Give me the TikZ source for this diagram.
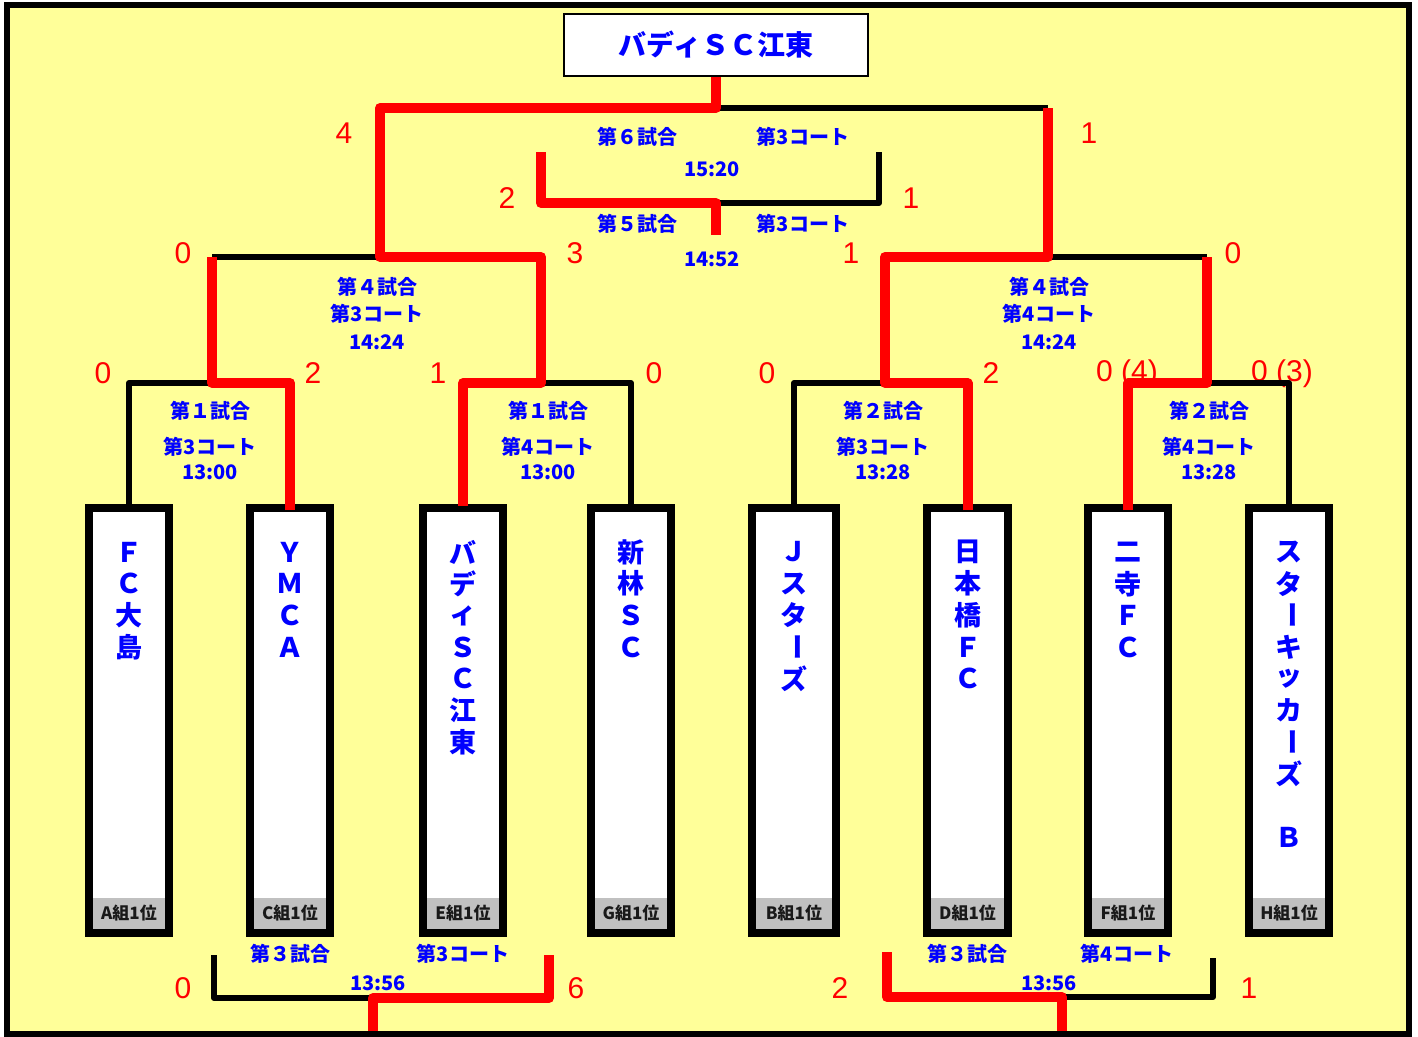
\documentclass[tikz,border=0pt]{standalone}
\usepackage{fontspec}
\usepackage{graphicx}
\newfontfamily\jp{Noto Sans CJK JP}
\newfontfamily\arialf{Liberation Sans}
\definecolor{bgyellow}{RGB}{255,255,153}
\definecolor{lblue}{RGB}{0,0,255}
\definecolor{lred}{RGB}{255,0,0}
\definecolor{lgray}{RGB}{192,192,192}
\newcommand\tatebar{\rotatebox{-90}{ー}}
\tikzset{
  redline/.style={draw=lred, line width=10pt, line join=round},
  blkline/.style={draw=black, line width=6pt, line join=round},
  info/.style={text=lblue, font=\jp\bfseries\fontsize{20}{20}\selectfont, inner sep=0pt},
  score/.style={text=lred, font=\arialf\fontsize{30}{30}\selectfont, inner sep=0pt},
  team/.style={draw=black, line width=8pt, fill=white, minimum height=425pt, inner sep=0pt},
  namech/.style={text=lblue, font=\jp\bfseries\fontsize{27}{27}\selectfont, inner sep=0pt},
  grp/.style={text=black!90, font=\jp\bfseries\fontsize{17}{17}\selectfont, inner sep=0pt},
  titlebox/.style={draw=black, line width=2pt, fill=white, minimum width=304pt, minimum height=62pt,
    text=lblue, font=\jp\bfseries\fontsize{28}{28}\selectfont, inner sep=0pt}
}
\newcommand\teamname[3]{%
  \foreach \ch [count=\i] in {#3} {
    \node[namech] (#1-\i) at (#2, {552+(\i-1)*31.7}) {\ch};
  }%
}
\begin{document}
\begin{tikzpicture}[x=1pt,y=-1pt]
\useasboundingbox (0,0) rectangle (1418,1036);
\fill[white] (0,0) rectangle (1418,1036);
\fill[bgyellow] (6.5,5) rectangle (1409,1033.5);

% team boxes
\foreach \x/\nm/\g/\w in {129/t1/A組1位/80, 290/t2/C組1位/80, 463/t3/E組1位/80, 631/t4/G組1位/80,
  794/t5/B組1位/84, 967.5/t6/D組1位/81, 1128/t7/F組1位/80, 1289/t8/H組1位/80} {
  \node[team, minimum width=\w pt] (\nm) at (\x,720.5) {};
  \fill[lgray] ({\x-\w/2+4},898) rectangle ({\x+\w/2-4},929);
  \node[grp] (\nm-g) at (\x,913.5) {\g};
}

% team names
\teamname{n1}{129}{Ｆ,Ｃ,大,島}
\teamname{n2}{290}{Ｙ,Ｍ,Ｃ,Ａ}
\teamname{n3}{463}{バ,デ,ィ,Ｓ,Ｃ,江,東}
\teamname{n4}{631}{新,林,Ｓ,Ｃ}
\teamname{n5}{794}{Ｊ,ス,タ,\tatebar,ズ}
\teamname{n6}{967.5}{日,本,橋,Ｆ,Ｃ}
\teamname{n7}{1128}{二,寺,Ｆ,Ｃ}
\teamname{n8}{1289}{ス,タ,\tatebar,キ,ッ,カ,\tatebar,ズ,{},Ｂ}

% info labels
\node[info] (l6a) at (637,137) {第６試合};
\node[info] (l6b) at (803,137) {第3コート};
\node[info] (l6c) at (712,169) {15:20};
\node[info] (l5a) at (637,224) {第５試合};
\node[info] (l5b) at (803,224) {第3コート};
\node[info] (l5c) at (712,259) {14:52};
\node[info] (l4a) at (377,287) {第４試合};
\node[info] (l4b) at (377,314) {第3コート};
\node[info] (l4c) at (377,342) {14:24};
\node[info] (r4a) at (1049,287) {第４試合};
\node[info] (r4b) at (1049,314) {第4コート};
\node[info] (r4c) at (1049,342) {14:24};
\node[info] (a1a) at (210,411) {第１試合};
\node[info] (a1b) at (210,447) {第3コート};
\node[info] (a1c) at (210,472) {13:00};
\node[info] (b1a) at (548,411) {第１試合};
\node[info] (b1b) at (548,447) {第4コート};
\node[info] (b1c) at (548,472) {13:00};
\node[info] (c2a) at (883,411) {第２試合};
\node[info] (c2b) at (883,447) {第3コート};
\node[info] (c2c) at (883,472) {13:28};
\node[info] (d2a) at (1209,411) {第２試合};
\node[info] (d2b) at (1209,447) {第4コート};
\node[info] (d2c) at (1209,472) {13:28};
\node[info] (e3a) at (290,954) {第３試合};
\node[info] (e3b) at (463,954) {第3コート};
\node[info] (e3c) at (378,983) {13:56};
\node[info] (f3a) at (967,954) {第３試合};
\node[info] (f3b) at (1127,954) {第4コート};
\node[info] (f3c) at (1049,983) {13:56};

% scores
\node[score] (s01) at (344,133) {4};
\node[score] (s02) at (1089,133) {1};
\node[score] (s03) at (507,198) {2};
\node[score] (s04) at (911,198) {1};
\node[score] (s05) at (183,253) {0};
\node[score] (s06) at (575,253) {3};
\node[score] (s07) at (851,253) {1};
\node[score] (s08) at (1233,253) {0};
\node[score] (s09) at (103,373) {0};
\node[score] (s10) at (313,373) {2};
\node[score] (s11) at (438,373) {1};
\node[score] (s12) at (654,373) {0};
\node[score] (s13) at (767,373) {0};
\node[score] (s14) at (991,373) {2};
\node[score] (s15) at (1127,374) {0 (4)};
\node[score] (s16) at (1282,374) {0 (3)};
\node[score] (s17) at (183,988) {0};
\node[score] (s18) at (576,988) {6};
\node[score] (s19) at (840,988) {2};
\node[score] (s20) at (1249,988) {1};

% title
\node[titlebox] (title) at (716,45) {バディＳＣ江東};

% junction coordinates
\coordinate (m1) at (212,383);
\coordinate (m2) at (541,383);
\coordinate (m3) at (885,383);
\coordinate (m4) at (1207,383);
\coordinate (sL1) at (212,257);
\coordinate (sL) at (380,257);
\coordinate (sL2) at (541,257);
\coordinate (sR1) at (885,257);
\coordinate (sR) at (1048,257);
\coordinate (sR2) at (1207,257);
\coordinate (fL) at (380,108);
\coordinate (fC) at (716,108);
\coordinate (fR) at (1048,108);
\coordinate (cL0) at (541,152);
\coordinate (cL) at (541,203);
\coordinate (cC) at (716,203);
\coordinate (cD) at (716,235);
\coordinate (cR) at (879,203);
\coordinate (cR0) at (879,152);
\coordinate (bL0) at (214,955);
\coordinate (bL) at (214,998);
\coordinate (bC) at (373,998);
\coordinate (bD) at (373,1033);
\coordinate (bR) at (549,998);
\coordinate (bR0) at (549,955);
\coordinate (gL0) at (887,952);
\coordinate (gL) at (887,997);
\coordinate (gC) at (1062,997);
\coordinate (gD) at (1062,1033);
\coordinate (gR) at (1213,997);
\coordinate (gR0) at (1213,958);

% black lines
\draw[blkline] (t1.north) |- (m1);
\draw[blkline] (t4.north) |- (m2);
\draw[blkline] (t5.north) |- (m3);
\draw[blkline] (t8.north) |- (m4);
\draw[blkline] (sL1) -- (sL);
\draw[blkline] (sR) -- (sR2);
\draw[blkline] (fC) -- (fR);
\draw[blkline] (cC) -- (cR) -- (cR0);
\draw[blkline] (bL0) -- (bL) -- (bC);
\draw[blkline] (gC) -- (gR) -- (gR0);

% red (winner) lines
\draw[redline] ([yshift=-6pt]t2.north) |- (m1) -- (sL1);
\draw[redline] ([yshift=-2pt]t3.north) |- (m2) -- (sL2) -- (sL) -- (fL) -- (fC) -- (title.south);
\draw[redline] ([yshift=-6pt]t6.north) |- (m3) -- (sR1) -- (sR) -- (fR);
\draw[redline] ([yshift=-6pt]t7.north) |- (m4) -- (sR2);
\draw[redline] (cL0) -- (cL) -- (cC) -- (cD);
\draw[redline] (bR0) -- (bR) -- (bC) -- (bD);
\draw[redline] (gL0) -- (gL) -- (gC) -- (gD);

% frame
\draw[black, line width=6pt] (6.5,5) rectangle (1409,1033.5);
\end{tikzpicture}
\end{document}
